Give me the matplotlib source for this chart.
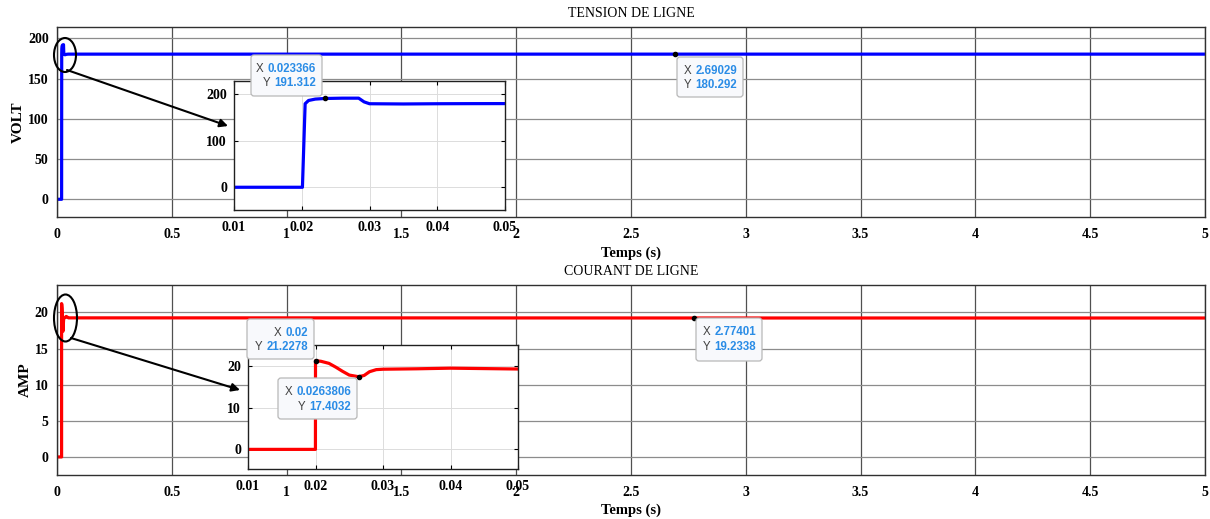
import matplotlib
matplotlib.use("Agg")
import matplotlib.pyplot as plt
from matplotlib.patches import FancyBboxPatch, Ellipse, FancyArrowPatch
from matplotlib.text import Annotation
from matplotlib.transforms import IdentityTransform
from matplotlib.ticker import FormatStrFormatter

# --- données ---
t_v = [0, 0.0201, 0.0205, 0.021, 0.022, 0.023366, 0.026, 0.0284, 0.0292, 0.030,
       0.035, 0.040, 0.045, 0.050, 1.0, 2.69029, 4.0, 5.0]
v = [0, 0, 180, 187, 190, 191.312, 192, 192, 184, 180,
     179.5, 180, 180.2, 180.3, 180.3, 180.292, 180.3, 180.3]

t_i = [0, 0.01999, 0.02, 0.0208, 0.022, 0.023, 0.024, 0.025, 0.0263806, 0.0272,
       0.028, 0.029, 0.030, 0.035, 0.040, 0.045, 0.050, 1.0, 2.77401, 5.0]
i = [0, 0, 21.2278, 21.1, 20.6, 19.7, 18.7, 17.8, 17.4032, 17.7,
     18.6, 19.1, 19.2, 19.3, 19.45, 19.35, 19.25, 19.25, 19.2338, 19.23]

tips_v = [(0.023366, 191.312), (2.69029, 180.292)]
tips_i = [(0.02, 21.2278), (0.0263806, 17.4032), (2.77401, 19.2338)]

main_xticks = [0, 0.5, 1, 1.5, 2, 2.5, 3, 3.5, 4, 4.5, 5]
inset_xticks = [0.01, 0.02, 0.03, 0.04, 0.05]

W, H = 1210, 519
plt.rcParams['font.family'] = ['Liberation Serif', 'DejaVu Serif']
plt.rcParams['font.weight'] = 'bold'
plt.rcParams['axes.labelweight'] = 'bold'

fig = plt.figure(figsize=(W / 100, H / 100), dpi=100)
ident = IdentityTransform()


def rect(x0, y0, x1, y1):
    return [x0 / W, 1 - y1 / H, (x1 - x0) / W, (y1 - y0) / H]


def style_main(ax, yticks, ylim):
    ax.set_xlim(0, 5)
    ax.set_ylim(*ylim)
    ax.set_xticks(main_xticks)
    ax.set_yticks(yticks)
    ax.xaxis.set_major_formatter(FormatStrFormatter('%g'))
    ax.tick_params(direction='in', length=0, labelsize=10, pad=8)
    ax.tick_params(axis='y', pad=6)
    ax.xaxis.grid(True, color='#505050', lw=0.9)
    ax.yaxis.grid(True, color='#8c8c8c', lw=0.9)
    for s in ax.spines.values():
        s.set_color('#303030')
        s.set_linewidth(1)


def style_inset(ax, yticks, ylim):
    ax.set_xlim(0.01, 0.05)
    ax.set_ylim(*ylim)
    ax.set_xticks(inset_xticks)
    ax.set_yticks(yticks)
    ax.xaxis.set_major_formatter(FormatStrFormatter('%g'))
    ax.tick_params(direction='in', length=3, labelsize=10, pad=8, top=True, right=True)
    ax.tick_params(axis='y', pad=5)
    ax.grid(True, color='#dcdcdc', lw=0.7)
    for s in ax.spines.values():
        s.set_color('#202020')
        s.set_linewidth(1)


def datatip(box, x, y):
    x0, y0, x1, y1 = box
    p = FancyBboxPatch((x0, H - y1), x1 - x0, y1 - y0,
                       boxstyle='round,pad=0,rounding_size=3', transform=ident,
                       fc='#f8f9fc', ec='#b8b8b8', lw=0.9, zorder=5)
    fig.add_artist(p)
    for k, (lab, val) in enumerate([('X', x), ('Y', y)]):
        yc = H - (y0 + 14 + 14.5 * k)
        t = fig.text(x1 - 6, yc, f"{val:g}", transform=ident, ha='right', va='center',
                     family='Liberation Sans', fontsize=8.3, weight='bold',
                     color='#2a8ce6', zorder=6)
        a = Annotation(lab, xy=(0, 0.5), xycoords=t, xytext=(-3, 0),
                       textcoords='offset points', ha='right', va='center',
                       family='Liberation Sans', fontsize=8.3, weight='normal',
                       color='#404040', zorder=6)
        fig.add_artist(a)


# --- tension ---
ax1 = fig.add_axes(rect(57, 27, 1205, 217))
ax1.plot(t_v, v, color='#0000ff', lw=2.3)
ax1.plot(*tips_v[1], 'o', color='k', ms=3, zorder=5)
style_main(ax1, [0, 50, 100, 150, 200], (-22, 214))
ax1.set_title('TENSION DE LIGNE', fontsize=10, weight='normal', pad=7)
ax1.set_xlabel('Temps (s)', fontsize=10.5, labelpad=4)
ax1.set_ylabel('VOLT', fontsize=11, labelpad=2)

in1 = fig.add_axes(rect(234, 81, 505, 210))
in1.plot(t_v, v, color='#0000ff', lw=2.3)
in1.plot(*tips_v[0], 'o', color='k', ms=3, zorder=5)
style_inset(in1, [0, 100, 200], (-49, 229))

# --- courant ---
ax2 = fig.add_axes(rect(57, 285, 1205, 475))
ax2.plot(t_i, i, color='#ff0000', lw=2.3)
ax2.plot(*tips_i[2], 'o', color='k', ms=3, zorder=5)
style_main(ax2, [0, 5, 10, 15, 20], (-2.5, 23.8))
ax2.set_title('COURANT DE LIGNE', fontsize=10, weight='normal', pad=7)
ax2.set_xlabel('Temps (s)', fontsize=10.5, labelpad=3)
ax2.set_ylabel('AMP', fontsize=11, labelpad=2)

in2 = fig.add_axes(rect(248, 345, 518, 469))
in2.plot(t_i, i, color='#ff0000', lw=2.3)
in2.plot(*tips_i[0], 'o', color='k', ms=3, zorder=5)
in2.plot(*tips_i[1], 'o', color='k', ms=3, zorder=5)
style_inset(in2, [0, 10, 20], (-4.7, 25))

# --- bulles de données ---
datatip((251, 55, 322, 96), *tips_v[0])
datatip((677, 57, 743, 97), *tips_v[1])
datatip((247, 319, 314, 359), *tips_i[0])
datatip((278, 378, 357, 419), *tips_i[1])
datatip((696, 318, 762, 361), *tips_i[2])

# --- ellipses et flèches vers les zooms ---
for (cx, cy, w, h), (xa, ya, xb, yb) in [((65, 55, 22, 34), (67, 70, 228, 126)),
                                         ((65.5, 318, 23, 47), (71, 338, 240, 390))]:
    fig.add_artist(Ellipse((cx, H - cy), w, h, transform=ident, fill=False,
                           ec='k', lw=1.5, zorder=4))
    fig.add_artist(FancyArrowPatch((xa, H - ya), (xb, H - yb), transform=ident,
                                   arrowstyle='-|>', mutation_scale=12, color='k',
                                   lw=1.5, shrinkA=0, shrinkB=0, zorder=4))

fig.savefig('out.png', dpi=100)
